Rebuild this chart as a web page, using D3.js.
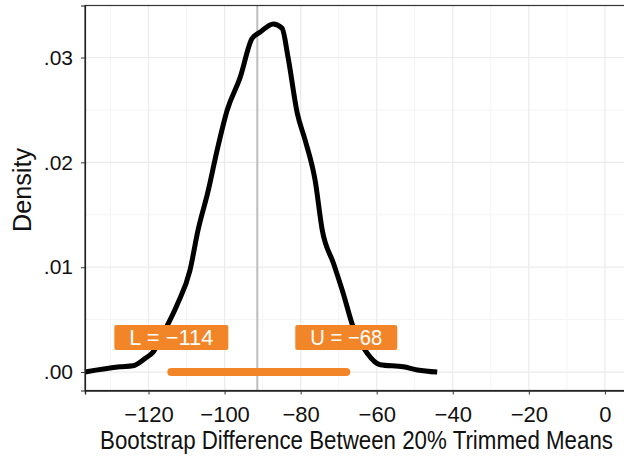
<!DOCTYPE html>
<html>
<head>
<meta charset="utf-8">
<script src="https://cdnjs.cloudflare.com/ajax/libs/d3/7.9.0/d3.min.js"></script>
<style>
  body { margin: 0; background: #fff; }
  svg { display: block; font-family: "Liberation Sans", Arial, sans-serif; }
</style>
</head>
<body>
<svg id="chart" width="624" height="459"></svg>
<script>
// bootstrap density
const diffX = [-136.7, -127.5, -124.1, -120.9, -118.8, -115.7, -112.5, -109.1, -107.0, -104.3, -102.0, -99.3, -95.9, -92.8, -90.7, -87.2, -84.9, -83.3, -80.9, -78.8, -76.2, -74.3, -71.4, -68.8, -66.2, -62.5, -59.1, -53.0, -49.3, -44.1];
const density = [0.0000, 0.0005, 0.0006, 0.0013, 0.0019, 0.0040, 0.0064, 0.0097, 0.0135, 0.0173, 0.0211, 0.0250, 0.0281, 0.0318, 0.0324, 0.0332, 0.0328, 0.0300, 0.0247, 0.0221, 0.0183, 0.0135, 0.0104, 0.0075, 0.0043, 0.0018, 0.0007, 0.0005, 0.0002, 0.0000];
const ciLower = -114;
const ciUpper = -68;
const centre = -91.4;
const labelY = 0.0033;
const xTicks = [-120, -100, -80, -60, -40, -20, 0];
const xMinor = [-130, -110, -90, -70, -50, -30, -10];
const yTicks = [0, 0.01, 0.02, 0.03];
const yMinor = [0.005, 0.015, 0.025];

const ORANGE = '#f28527';
const svg = d3.select('#chart');
const pL = 85, pT = 5.5, pR = 630, pB = 390.5;

const x = d3.scaleLinear().domain([-136.7, 6.6]).range([pL, pR]);
const y = d3.scaleLinear().domain([-0.00176, 0.03496]).range([pB, pT]);

const minus = v => String(v).replace('-', '\u2212');

// squeeze a text horizontally to a target width (condensed look)
function squeeze(sel, w, tx, ty, rot) {
  const len = sel.node().getComputedTextLength();
  const k = Math.min(1, w / len);
  sel.attr('transform', `translate(${tx},${ty})${rot ? ` rotate(${rot})` : ''} scale(${k},1)`);
}

// grid
const grid = svg.append('g');
grid.selectAll('.vmin').data(xMinor).join('line')
  .attr('x1', d => x(d)).attr('x2', d => x(d)).attr('y1', pT).attr('y2', pB)
  .attr('stroke', '#f4f4f4').attr('stroke-width', 1);
grid.selectAll('.hmin').data(yMinor).join('line')
  .attr('x1', pL).attr('x2', pR).attr('y1', d => y(d)).attr('y2', d => y(d))
  .attr('stroke', '#f4f4f4').attr('stroke-width', 1);
grid.selectAll('.vmaj').data(xTicks).join('line')
  .attr('x1', d => x(d)).attr('x2', d => x(d)).attr('y1', pT).attr('y2', pB)
  .attr('stroke', '#ebebeb').attr('stroke-width', 1.2);
grid.selectAll('.hmaj').data(yTicks).join('line')
  .attr('x1', pL).attr('x2', pR).attr('y1', d => y(d)).attr('y2', d => y(d))
  .attr('stroke', '#ebebeb').attr('stroke-width', 1.2);

// centre line
svg.append('line')
  .attr('x1', x(centre)).attr('x2', x(centre)).attr('y1', pT).attr('y2', pB)
  .attr('stroke', '#bdbdbd').attr('stroke-width', 2);

// density curve
const line = d3.line().x((d, i) => x(diffX[i])).y(d => y(d)).curve(d3.curveMonotoneX);
svg.append('path').datum(density)
  .attr('d', line).attr('fill', 'none').attr('stroke', '#000')
  .attr('stroke-width', 5).attr('stroke-linejoin', 'round').attr('stroke-linecap', 'butt');

// confidence interval bar
svg.append('line')
  .attr('x1', x(ciLower)).attr('x2', x(ciUpper)).attr('y1', y(0)).attr('y2', y(0))
  .attr('stroke', ORANGE).attr('stroke-width', 8).attr('stroke-linecap', 'round');

// labels (box = text + padding)
const labels = [{ v: ciLower, t: 'L = ' + minus(ciLower), w: 84 }, { v: ciUpper, t: 'U = ' + minus(ciUpper), w: 72 }];
const lab = svg.append('g').selectAll('g').data(labels).join('g')
  .attr('transform', d => `translate(${x(d.v)},${y(labelY)})`);
lab.append('rect').attr('x', d => -(d.w + 30) / 2).attr('y', -12.5).attr('width', d => d.w + 30).attr('height', 25)
  .attr('rx', 2).attr('fill', ORANGE);
lab.append('text').text(d => d.t).attr('fill', '#fff').attr('text-anchor', 'middle')
  .attr('font-size', 22)
  .each(function (d) { squeeze(d3.select(this), d.w, 0, 8); });

// panel border (top/left) and axes
svg.append('rect').attr('x', pL).attr('y', pT).attr('width', pR - pL + 5).attr('height', pB - pT)
  .attr('fill', 'none').attr('stroke', '#333').attr('stroke-width', 1.2);

const xAxis = svg.append('g').attr('transform', `translate(0,${pB})`)
  .call(d3.axisBottom(x).tickValues(xTicks).tickSize(4).tickPadding(12).tickFormat(minus));
xAxis.select('.domain').attr('stroke', '#222').attr('stroke-width', 1.4);
xAxis.selectAll('.tick line').attr('stroke', '#333');
xAxis.selectAll('text').attr('font-size', 22).attr('fill', '#111').attr('font-family', null);

const yAxis = svg.append('g').attr('transform', `translate(${pL},0)`)
  .call(d3.axisLeft(y).tickValues(yTicks).tickSize(4).tickPadding(8)
    .tickFormat(d => d3.format('.2f')(d).replace(/^0/, '')));
yAxis.select('.domain').attr('stroke', '#222').attr('stroke-width', 1.2);
yAxis.selectAll('.tick line').attr('stroke', '#333');
yAxis.selectAll('text').attr('font-size', 21).attr('fill', '#111').attr('font-family', null);

// axis titles
const xTitle = svg.append('text').attr('text-anchor', 'middle')
  .attr('font-size', 25).attr('fill', '#111')
  .text('Bootstrap Difference Between 20% Trimmed Means');
squeeze(xTitle, 513, 356.5, 449);
const yTitle = svg.append('text').attr('text-anchor', 'middle')
  .attr('font-size', 26).attr('fill', '#111').text('Density');
squeeze(yTitle, 84, 30.5, 190, -90);
</script>
</body>
</html>
